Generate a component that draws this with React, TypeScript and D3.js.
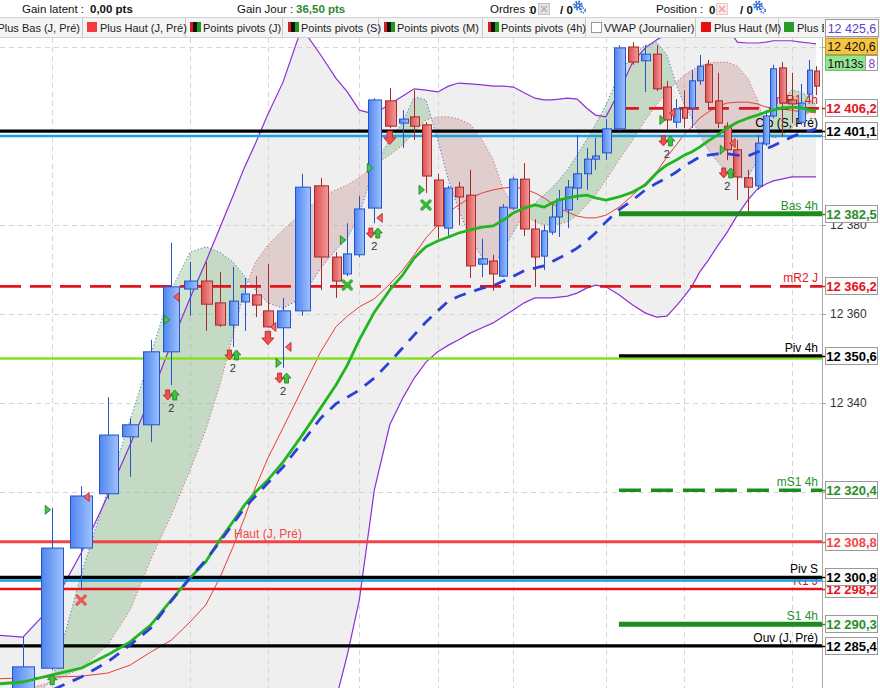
import React from 'react';
import * as d3 from 'd3';

// ---------- DATA ----------
// relative volume of each bar (bar slot width is proportional to it)
const volumes = [290, 290, 295, 285, 245, 205, 205, 208, 170, 143, 138, 125, 108, 113, 133, 170, 203, 178, 125, 105, 135, 165, 145, 115, 115, 120, 115, 100, 105, 125, 115, 105, 100, 100, 115, 100, 80, 75, 75, 93, 100, 88, 90, 120, 140, 135, 120, 105, 100, 90, 70, 75, 85, 90, 95, 98, 105, 103, 93, 75, 73, 95, 105, 88, 70, 65];
const opens = [12268.0, 12273.0, 12280.4, 12307.4, 12319.6, 12332.4, 12335.1, 12351.5, 12365.6, 12367.4, 12362.5, 12357.5, 12362.7, 12364.3, 12360.7, 12356.9, 12360.7, 12388.8, 12372.8, 12369.0, 12373.3, 12383.8, 12407.9, 12402.9, 12404.3, 12402.5, 12390.1, 12379.3, 12388.5, 12386.7, 12371.2, 12371.9, 12368.5, 12383.8, 12390.3, 12379.1, 12373.0, 12378.4, 12381.8, 12383.4, 12388.3, 12391.5, 12394.8, 12396.2, 12401.6, 12420.0, 12416.9, 12418.4, 12411.0, 12403.1, 12406.3, 12406.3, 12412.4, 12416.0, 12407.9, 12402.2, 12396.9, 12390.6, 12388.8, 12398.2, 12404.5, 12415.3, 12408.1, 12403.1, 12409.4, 12414.6];
const highs = [12275.0, 12287.4, 12316.4, 12321.3, 12341.3, 12336.6, 12354.2, 12376.0, 12371.7, 12371.7, 12369.4, 12370.6, 12368.1, 12368.5, 12371.2, 12363.6, 12391.5, 12390.6, 12373.9, 12380.4, 12386.5, 12408.5, 12410.8, 12405.8, 12410.3, 12403.1, 12391.5, 12388.8, 12389.7, 12392.4, 12376.9, 12373.3, 12384.7, 12390.8, 12393.9, 12381.3, 12380.0, 12384.7, 12387.9, 12390.1, 12400.2, 12397.3, 12399.6, 12403.8, 12420.4, 12421.1, 12420.4, 12420.4, 12412.4, 12408.3, 12410.3, 12414.8, 12418.2, 12417.1, 12414.2, 12403.1, 12399.1, 12392.4, 12400.2, 12405.8, 12416.0, 12416.6, 12414.2, 12411.7, 12417.1, 12415.7];
const lows = [12262.0, 12272.0, 12280.0, 12298.4, 12318.4, 12323.4, 12331.2, 12344.0, 12359.6, 12356.2, 12357.1, 12352.6, 12356.2, 12359.3, 12356.9, 12347.9, 12359.6, 12365.4, 12363.6, 12368.5, 12372.8, 12380.4, 12401.8, 12397.3, 12399.1, 12387.2, 12376.9, 12377.3, 12380.0, 12368.1, 12368.3, 12365.2, 12368.3, 12383.4, 12377.5, 12366.1, 12369.9, 12377.8, 12377.3, 12379.3, 12385.6, 12387.9, 12392.4, 12394.6, 12401.1, 12416.0, 12409.9, 12410.1, 12401.3, 12401.8, 12401.8, 12401.8, 12411.5, 12405.8, 12401.8, 12394.6, 12385.6, 12382.9, 12387.9, 12397.8, 12404.0, 12399.8, 12402.9, 12402.5, 12408.1, 12409.2];
const closes = [12273.0, 12280.7, 12307.4, 12319.1, 12332.8, 12335.1, 12351.5, 12366.1, 12367.4, 12362.2, 12357.5, 12362.9, 12364.5, 12362.0, 12357.1, 12360.7, 12388.5, 12372.8, 12367.4, 12373.5, 12383.6, 12408.1, 12402.2, 12403.8, 12402.2, 12391.0, 12379.8, 12388.3, 12386.3, 12370.8, 12372.4, 12369.0, 12384.0, 12390.3, 12379.1, 12372.8, 12378.7, 12381.8, 12385.8, 12388.5, 12391.5, 12394.8, 12395.5, 12401.6, 12419.8, 12416.6, 12418.4, 12410.6, 12403.6, 12406.1, 12404.0, 12412.4, 12415.7, 12407.6, 12402.9, 12396.9, 12390.8, 12388.5, 12398.4, 12404.5, 12415.1, 12407.4, 12407.2, 12407.4, 12414.8, 12411.2];

const maGreen = [12276.8, 12277.3, 12278.9, 12280.4, 12283.4, 12286.3, 12290.1, 12295.7, 12300.7, 12304.3, 12309.2, 12313.3, 12317.1, 12320.0, 12322.7, 12326.7, 12332.6, 12338.9, 12344.0, 12348.5, 12354.2, 12360.4, 12365.4, 12368.8, 12372.6, 12375.1, 12376.4, 12377.3, 12378.2, 12378.9, 12379.5, 12379.8, 12381.1, 12382.7, 12383.8, 12384.5, 12384.0, 12384.9, 12385.6, 12386.1, 12386.5, 12386.7, 12386.1, 12385.6, 12386.3, 12387.4, 12389.0, 12391.7, 12393.5, 12394.6, 12395.7, 12396.4, 12397.5, 12398.9, 12400.2, 12401.8, 12403.1, 12404.0, 12404.7, 12405.4, 12405.8, 12406.3, 12406.5, 12406.3, 12405.8, 12405.6];
const maBlue = [12271.0, 12273.3, 12275.5, 12278.4, 12281.8, 12285.6, 12289.4, 12295.5, 12300.7, 12304.7, 12308.8, 12312.8, 12316.4, 12319.1, 12322.0, 12325.6, 12331.0, 12336.6, 12339.8, 12341.3, 12342.9, 12345.6, 12349.2, 12352.4, 12355.3, 12358.2, 12360.7, 12362.9, 12364.0, 12364.9, 12365.8, 12366.3, 12367.4, 12368.5, 12369.7, 12370.3, 12370.8, 12371.7, 12372.6, 12373.5, 12374.8, 12376.4, 12378.2, 12380.7, 12383.4, 12385.6, 12387.9, 12389.4, 12390.6, 12391.9, 12393.3, 12394.2, 12395.3, 12395.7, 12396.0, 12396.0, 12395.7, 12395.5, 12396.4, 12397.1, 12397.8, 12398.7, 12399.8, 12400.7, 12401.1, 12401.6];
const bbMid = [12278.0, 12278.2, 12278.4, 12278.6, 12279.3, 12281.1, 12284.0, 12286.7, 12290.8, 12294.6, 12300.7, 12307.6, 12314.2, 12321.1, 12327.6, 12334.4, 12342.9, 12351.5, 12357.1, 12359.5, 12361.6, 12363.4, 12366.7, 12369.9, 12373.3, 12377.1, 12380.0, 12382.9, 12384.5, 12386.1, 12387.2, 12387.9, 12388.3, 12388.5, 12388.1, 12387.2, 12386.1, 12384.9, 12383.8, 12382.9, 12382.0, 12381.6, 12381.6, 12382.2, 12384.0, 12386.7, 12389.4, 12391.9, 12395.3, 12398.0, 12400.4, 12402.0, 12404.0, 12405.4, 12406.7, 12407.4, 12407.6, 12407.6, 12407.2, 12406.5, 12406.3, 12406.1, 12405.8, 12405.4, 12405.4, 12405.2];
const bbUpper = [12287.9, 12287.4, 12294.4, 12306.3, 12319.1, 12330.6, 12341.3, 12353.3, 12363.6, 12371.7, 12379.3, 12386.5, 12393.0, 12398.4, 12404.9, 12412.1, 12424.3, 12418.2, 12413.0, 12409.9, 12405.8, 12404.9, 12407.2, 12409.0, 12410.6, 12410.3, 12409.9, 12411.2, 12411.9, 12411.7, 12411.5, 12411.2, 12411.2, 12411.0, 12409.7, 12408.5, 12408.1, 12408.1, 12408.3, 12408.5, 12408.3, 12406.3, 12404.7, 12404.3, 12409.9, 12416.6, 12419.8, 12421.6, 12422.9, 12423.8, 12424.3, 12424.5, 12424.5, 12424.5, 12424.5, 12424.3, 12421.1, 12420.9, 12420.9, 12421.1, 12421.4, 12421.4, 12421.4, 12421.1, 12420.9, 12420.7];
const bbLower = [12265.0, 12268.8, 12259.8, 12248.5, 12237.3, 12228.3, 12221.6, 12217.1, 12214.8, 12214.8, 12217.1, 12219.3, 12223.8, 12228.3, 12235.1, 12244.0, 12255.3, 12266.5, 12273.3, 12283.4, 12295.7, 12320.4, 12335.1, 12341.1, 12345.6, 12349.2, 12351.5, 12353.0, 12354.2, 12355.7, 12356.9, 12358.0, 12359.5, 12360.9, 12362.5, 12363.6, 12363.6, 12363.6, 12363.8, 12364.0, 12364.7, 12365.8, 12366.5, 12366.1, 12364.3, 12362.0, 12360.2, 12359.3, 12359.5, 12361.8, 12364.0, 12366.1, 12369.4, 12372.1, 12375.3, 12378.4, 12382.2, 12385.6, 12388.1, 12389.2, 12389.9, 12390.3, 12390.8, 12390.8, 12390.8, 12390.8];
const trendFast = [12270.1, 12272.1, 12277.7, 12301.4, 12320.4, 12336.2, 12350.8, 12365.4, 12373.9, 12375.1, 12373.9, 12371.7, 12368.5, 12365.4, 12362.5, 12361.3, 12363.6, 12370.3, 12374.4, 12377.1, 12382.2, 12393.5, 12399.1, 12403.1, 12408.8, 12408.1, 12399.1, 12390.1, 12383.4, 12377.1, 12372.6, 12370.8, 12374.4, 12378.4, 12382.7, 12384.9, 12386.7, 12388.3, 12390.1, 12392.4, 12395.7, 12399.1, 12402.5, 12407.0, 12413.7, 12418.2, 12420.4, 12421.1, 12418.2, 12411.5, 12407.0, 12404.0, 12400.2, 12396.9, 12394.2, 12391.9, 12390.6, 12390.6, 12394.6, 12401.3, 12405.8, 12408.1, 12410.3, 12409.9, 12408.5, 12407.0];
const trendSlow = [12274.8, 12275.5, 12277.3, 12280.4, 12285.6, 12293.5, 12304.7, 12314.8, 12324.9, 12333.9, 12344.0, 12355.3, 12365.4, 12371.7, 12375.5, 12378.9, 12382.7, 12386.1, 12387.9, 12389.0, 12390.6, 12393.5, 12395.7, 12398.0, 12400.9, 12403.6, 12404.3, 12404.3, 12403.8, 12402.7, 12399.1, 12394.6, 12387.9, 12384.5, 12382.2, 12380.7, 12380.0, 12380.0, 12380.2, 12380.7, 12382.2, 12384.5, 12386.7, 12390.1, 12394.6, 12399.1, 12403.6, 12407.0, 12409.9, 12412.1, 12413.7, 12414.8, 12415.7, 12416.4, 12416.6, 12416.6, 12415.7, 12413.0, 12408.1, 12401.3, 12399.5, 12400.0, 12401.8, 12403.6, 12405.4, 12406.3];

const gridCandles = [2, 8, 14, 20, 26, 33, 43, 50, 62];
const gridPrices = [12300, 12320, 12340, 12360, 12380, 12400, 12420];
const labelTicks = [12340, 12360, 12380];
const fourHourStart = 44;

const levelNames = ['Ouv (J, Pré)', 'S1 4h', 'R1 J', '', 'Piv S', 'Haut (J, Pré)', 'mS1 4h', '', 'Piv 4h', 'mR2 J', 'Bas 4h', '', 'Clo (S, Pré)', 'mR1 4h'];
const levelPrices = [12285.4, 12290.3, 12298.2, 12300.1, 12300.8, 12308.8, 12320.4, 12350.0, 12350.6, 12366.2, 12382.5, 12400.0, 12401.1, 12406.2];
const levelKinds = ['black', 'green4h', 'red', 'blue', 'black', 'redLight', 'greenDash4h', 'lime', 'black4h', 'redDash', 'green4h', 'blue', 'black', 'redDash4h'];
const levelOnAxis = [true, true, true, false, true, true, true, false, true, true, true, false, true, true];

const markerCandles = [2, 3, 3, 2, 7, 7, 7, 11, 14, 14, 15, 15, 15, 19, 19, 21, 21, 21, 22, 25, 25, 48, 48, 48, 55, 55, 55];
const markerPrices = [12316.0, 12318.9, 12295.7, 12277.8, 12363.8, 12358.7, 12341.8, 12350.8, 12354.6, 12357.1, 12352.6, 12349.0, 12345.6, 12376.6, 12366.5, 12392.8, 12381.6, 12378.2, 12399.6, 12387.9, 12384.5, 12403.6, 12405.2, 12398.9, 12396.9, 12398.4, 12391.7];
const markerTypes = ['tg', 'tr', 'xr', 'up', 'tr', 'tg', 'pair', 'pair', 'down', 'tr', 'tr', 'tg', 'pair', 'tg', 'xg', 'tg', 'tr', 'pair', 'down', 'tg', 'xg', 'tg', 'tr', 'pair', 'tg', 'tr', 'pair'];

const legendItems = ['Plus Bas (J, Pré)', 'Plus Haut (J, Pré)', 'Points pivots (J)', 'Points pivots (S)', 'Points pivots (M)', 'Points pivots (4h)', 'VWAP (Journalier)', 'Plus Haut (M)', 'Plus Bas (M)'];
const legendIcons = ['none', 'red', 'pivot', 'pivot', 'pivot', 'pivot', 'empty', 'red2', 'green'];

// ---------- STYLE ----------
const FONT = "'Liberation Sans', Arial, Helvetica, sans-serif";
const PLOT_R = 822;
const PLOT_T = 38;
const H = 688;

const levelStyle: Record<string, any> = {
  black: { color: '#000000', w: 3.2, dash: null, fourH: false, text: '#000' },
  black4h: { color: '#000000', w: 3.2, dash: null, fourH: true, text: '#000' },
  green4h: { color: '#1c8c1c', w: 5, dash: null, fourH: true, text: '#2a8f2a' },
  greenDash4h: { color: '#1c8c1c', w: 3.5, dash: '22,10', fourH: true, text: '#2a8f2a' },
  red: { color: '#e3141c', w: 2.6, dash: null, fourH: false, text: '#e3141c' },
  redLight: { color: '#f04444', w: 3, dash: null, fourH: false, text: '#ef4a4a' },
  redDash: { color: '#e3141c', w: 2.8, dash: '21,9', fourH: false, text: '#e3141c' },
  redDash4h: { color: '#d9191f', w: 2.8, dash: '20,10', fourH: true, text: '#e3141c' },
  blue: { color: '#1e9fe6', w: 2.5, dash: null, fourH: false, text: '#1e9fe6' },
  lime: { color: '#84e01e', w: 2.5, dash: null, fourH: false, text: '#5a5' },
};

const fmt = (v: number) => {
  const s = v.toFixed(1).replace('.', ',');
  const [a, b] = s.split(',');
  return a.slice(0, 2) + ' ' + a.slice(2) + ',' + b;
};
const fmtInt = (v: number) => {
  const a = String(Math.round(v));
  return a.slice(0, 2) + ' ' + a.slice(2);
};

function Arrow({ x, y, dir, color, stroke, s = 1 }: any) {
  const h = 10 * s, hw = 4.5 * s, sw = 2 * s, hh = 5 * s;
  const t = y - h / 2;
  let pts: number[][];
  if (dir === 'down') {
    pts = [[x - sw, t], [x + sw, t], [x + sw, t + hh], [x + hw, t + hh], [x, t + h], [x - hw, t + hh], [x - sw, t + hh]];
  } else {
    const b = y + h / 2;
    pts = [[x - sw, b], [x + sw, b], [x + sw, b - hh], [x + hw, b - hh], [x, b - h], [x - hw, b - hh], [x - sw, b - hh]];
  }
  return <polygon points={pts.map(p => p.join(',')).join(' ')} fill={color} stroke={stroke} strokeWidth={0.8} />;
}

function Gear({ x, y }: any) {
  return (
    <g>
      <circle cx={x} cy={y} r={3.6} fill="none" stroke="#2f6fd6" strokeWidth={2.6} strokeDasharray="1.6,1.2" />
      <circle cx={x} cy={y} r={2.6} fill="#2f6fd6" />
      <circle cx={x} cy={y} r={1.1} fill="#fff" />
      <circle cx={x + 5} cy={y + 5} r={2.2} fill="none" stroke="#2f6fd6" strokeWidth={1.8} strokeDasharray="1.2,1" />
      <circle cx={x + 5} cy={y + 5} r={0.8} fill="#fff" />
    </g>
  );
}

export default function App() {
  const cum = d3.cumsum(volumes);
  const total = cum[cum.length - 1];
  const x = d3.scaleLinear().domain([0, total]).range([-20.5, 819.25]);
  const cx = volumes.map((v, i) => x(cum[i] - v / 2));
  const slot = volumes.map(v => x(v) - x(0));
  const y = d3.scaleLinear().domain([12275.95, 12430.56]).range([H, 0]);

  const lineOf = (arr: number[]) => d3.line<number>().x((_, i) => cx[i]).y(d => y(d))(arr) || '';
  const bandArea = d3.area<number>().x((_, i) => cx[i]).y0((_, i) => y(bbLower[i])).y1(d => y(d))(bbUpper) || '';
  const below = (arr: number[]) => d3.area<number>().x((_, i) => cx[i]).y0(d => y(d)).y1(() => 3000)(arr) || '';
  const above = (arr: number[]) => d3.area<number>().x((_, i) => cx[i]).y0(() => -3000).y1(d => y(d))(arr) || '';

  const x4h = cx[fourHourStart];

  const legendSeps = [82, 185, 282, 378, 482, 585, 695, 778];
  const legendStarts = [0, 86, 189, 287, 383, 487, 590, 700, 783];

  return (
    <svg width={880} height={688} style={{ position: 'absolute', left: 0, top: 0, display: 'block', background: '#fff' }} fontFamily={FONT}>
      <defs>
        <clipPath id="plot"><rect x={0} y={PLOT_T} width={PLOT_R} height={H - PLOT_T} /></clipPath>
        <clipPath id="belowFast"><path d={below(trendFast)} /></clipPath>
        <clipPath id="belowSlow"><path d={below(trendSlow)} /></clipPath>
        <clipPath id="legendClip"><rect x={0} y={17} width={PLOT_R + 2} height={21} /></clipPath>
        <linearGradient id="gBlue" x1="0" x2="1" y1="0" y2="0">
          <stop offset="0" stopColor="#4f86ee" />
          <stop offset="1" stopColor="#a0c2ff" />
        </linearGradient>
        <linearGradient id="gRed" x1="0" x2="1" y1="0" y2="0">
          <stop offset="0" stopColor="#dc4f4f" />
          <stop offset="1" stopColor="#f39b9b" />
        </linearGradient>
      </defs>

      <g clipPath="url(#plot)">
        <rect x={0} y={0} width={PLOT_R} height={H} fill="#fff" />
        <path d={bandArea} fill="#efefef" />
        {gridPrices.map(t => (
          <line key={'h' + t} x1={0} x2={PLOT_R} y1={Math.round(y(t)) + 0.5} y2={Math.round(y(t)) + 0.5} stroke="#d6d6d6" strokeDasharray="5,4" />
        ))}
        {gridCandles.map(i => (
          <line key={'v' + i} x1={Math.round(cx[i]) + 0.5} x2={Math.round(cx[i]) + 0.5} y1={PLOT_T} y2={H} stroke="#d6d6d6" strokeDasharray="5,4" />
        ))}
        <path d={above(trendSlow)} fill="rgba(90,165,90,0.28)" clipPath="url(#belowFast)" />
        <path d={above(trendFast)} fill="rgba(175,90,90,0.22)" clipPath="url(#belowSlow)" />
        <path d={lineOf(trendFast)} fill="none" stroke="#4a6fd0" strokeWidth={1} strokeDasharray="1.2,2.2" />
        <path d={lineOf(trendSlow)} fill="none" stroke="#d06a6a" strokeWidth={1} strokeDasharray="1.2,2.2" />
        <path d={lineOf(bbUpper)} fill="none" stroke="#8d2fd6" strokeWidth={1.2} />
        <path d={lineOf(bbLower)} fill="none" stroke="#8d2fd6" strokeWidth={1.2} />
        <path d={lineOf(bbMid)} fill="none" stroke="#ec3a3a" strokeWidth={1} />

        {levelNames.map((n, k) => {
          if (!n) return null;
          const st = levelStyle[levelKinds[k]];
          const ly = y(levelPrices[k]);
          const left = n === 'Haut (J, Pré)';
          return (
            <text key={'ll' + k} x={left ? 234 : 818} y={ly - 4} textAnchor={left ? 'start' : 'end'} fontSize={12} fill={st.text}>{n}</text>
          );
        })}
        {levelPrices.map((p, k) => {
          const st = levelStyle[levelKinds[k]];
          const ly = y(p);
          return (
            <line key={'lv' + k} x1={st.fourH ? x4h : 0} x2={PLOT_R} y1={ly} y2={ly} stroke={st.color} strokeWidth={st.w} strokeDasharray={st.dash || undefined} />
          );
        })}

        {opens.map((o, i) => {
          const c = closes[i];
          const up = c >= o;
          const bw = Math.max(3, Math.round(slot[i] * 0.76));
          const xc = Math.round(cx[i]);
          const top = y(Math.max(o, c));
          const bh = Math.max(1, Math.abs(y(o) - y(c)));
          const stroke = up ? '#2553c9' : '#a52a2a';
          return (
            <g key={'c' + i}>
              <line x1={xc + 0.5} x2={xc + 0.5} y1={y(highs[i])} y2={y(lows[i])} stroke={stroke} strokeWidth={1} />
              <rect x={xc - Math.floor(bw / 2) + 0.5} y={top} width={bw} height={bh} fill={up ? 'url(#gBlue)' : 'url(#gRed)'} stroke={stroke} strokeWidth={1} />
            </g>
          );
        })}

        <path d={lineOf(maGreen)} fill="none" stroke="#22b522" strokeWidth={2.8} strokeLinejoin="round" />
        <path d={lineOf(maBlue)} fill="none" stroke="#2c3fd6" strokeWidth={2.8} strokeDasharray="12,9" />

        {markerTypes.map((t, k) => {
          const mx = cx[markerCandles[k]];
          const my = y(markerPrices[k]);
          if (t === 'tg') return <polygon key={'m' + k} points={`${mx - 7},${my - 4.5} ${mx - 7},${my + 4.5} ${mx - 1.5},${my}`} fill="#45c445" stroke="#1d7a1d" strokeWidth={0.8} />;
          if (t === 'tr') return <polygon key={'m' + k} points={`${mx + 8},${my - 4.5} ${mx + 8},${my + 4.5} ${mx + 2.5},${my}`} fill="#f26666" stroke="#b02020" strokeWidth={0.8} />;
          if (t === 'xg' || t === 'xr') {
            const col = t === 'xg' ? '#3cb43c' : '#e85a5a';
            return (
              <g key={'m' + k} stroke={col} strokeWidth={3.4} strokeLinecap="round">
                <line x1={mx - 4} y1={my - 4} x2={mx + 4} y2={my + 4} />
                <line x1={mx - 4} y1={my + 4} x2={mx + 4} y2={my - 4} />
              </g>
            );
          }
          if (t === 'up') return <Arrow key={'m' + k} x={mx} y={my} dir="up" color="#3cc43c" stroke="#1d7a1d" />;
          if (t === 'down') return <Arrow key={'m' + k} x={mx} y={my} dir="down" color="#f05050" stroke="#b02020" s={1.35} />;
          return (
            <g key={'m' + k}>
              <Arrow x={mx - 3.5} y={my} dir="down" color="#f05050" stroke="#b02020" />
              <Arrow x={mx + 3.5} y={my} dir="up" color="#3cc43c" stroke="#1d7a1d" />
              <text x={mx} y={my + 17} fontSize={11} textAnchor="middle" fill="#333">2</text>
            </g>
          );
        })}
      </g>

      {/* right axis */}
      <rect x={PLOT_R} y={0} width={880 - PLOT_R} height={H} fill="#fff" />
      <line x1={PLOT_R + 0.5} x2={PLOT_R + 0.5} y1={PLOT_T} y2={H} stroke="#a8a8a8" />
      {gridPrices.map(t => (
        <line key={'tm' + t} x1={PLOT_R} x2={PLOT_R + 4} y1={Math.round(y(t)) + 0.5} y2={Math.round(y(t)) + 0.5} stroke="#a8a8a8" />
      ))}
      {labelTicks.map(t => (
        <text key={'t' + t} x={830} y={y(t) + 4.5} fontSize={12} fill="#333">{fmtInt(t)}</text>
      ))}
      {levelPrices.map((p, k) => {
        if (!levelOnAxis[k]) return null;
        const st = levelStyle[levelKinds[k]];
        const ly = Math.round(y(p));
        return (
          <g key={'ax' + k}>
            <line x1={PLOT_R} x2={827} y1={ly + 0.5} y2={ly + 0.5} stroke={st.text} strokeWidth={1.5} />
            <rect x={825.5} y={ly - 8.5} width={52} height={17} fill="#fbfbfb" stroke="#9a9a9a" />
            <text x={851.5} y={ly + 5} fontSize={13} fontWeight="bold" textAnchor="middle" fill={st.text}>{fmt(p)}</text>
          </g>
        );
      })}
      {/* top axis boxes */}
      <rect x={825.5} y={38.5} width={52} height={16} fill="#f6c443" stroke="#c99a22" />
      <text x={851.5} y={51} fontSize={12.5} textAnchor="middle" fill="#111">12 420,6</text>
      <rect x={825.5} y={55.5} width={40} height={15} fill="#93e493" stroke="#6cbf6c" />
      <text x={845.5} y={67.5} fontSize={12} textAnchor="middle" fill="#111">1m13s</text>
      <rect x={865.5} y={55.5} width={12} height={15} fill="#fff" stroke="#9a9a9a" />
      <text x={868.5} y={67.5} fontSize={12} fill="#7a3fd0">8</text>

      {/* header row 1 */}
      <rect x={0} y={0} width={880} height={17} fill="#fff" />
      <g fontSize={11.5} fill="#111">
        <text x={22} y={13}>Gain latent :</text>
        <text x={90} y={13} fontWeight="bold">0,00 pts</text>
        <text x={237} y={13}>Gain Jour :</text>
        <text x={296} y={13} fontWeight="bold" fill="#2d8a2d">36,50 pts</text>
        <text x={490} y={13}>Ordres :</text>
        <text x={530} y={14} fontWeight="bold">0</text>
        <text x={560} y={14} fontWeight="bold">/ 0</text>
        <text x={656} y={13}>Position :</text>
        <text x={709} y={14} fontWeight="bold">0</text>
        <text x={740} y={14} fontWeight="bold">/ 0</text>
      </g>
      <rect x={538.5} y={3.5} width={11} height={11} fill="#e2e2e2" stroke="#c4c4c4" />
      <path d="M541,6 L547,12 M547,6 L541,12" stroke="#b0b0b0" strokeWidth={1.5} />
      <rect x={716.5} y={3.5} width={11} height={11} fill="#fbe9e9" stroke="#f0caca" />
      <path d="M719,6 L725,12 M725,6 L719,12" stroke="#f2a0a0" strokeWidth={1.5} />
      <Gear x={578} y={5.5} />
      <Gear x={758} y={5.5} />

      {/* header row 2: legend */}
      <rect x={-1} y={17.5} width={882} height={20} fill="#f4f4f4" stroke="#d2d2d2" />
      <g clipPath="url(#legendClip)">
        {legendSeps.map(s => <line key={'s' + s} x1={s + 0.5} x2={s + 0.5} y1={18} y2={37} stroke="#c8c8c8" />)}
        {legendItems.map((name, k) => {
          const sx = legendStarts[k];
          const icon = legendIcons[k];
          return (
            <g key={'lg' + k}>
              {icon === 'red' && <rect x={sx + 1} y={22} width={10} height={10} fill="#f23c3c" />}
              {icon === 'red2' && <rect x={sx + 1} y={22} width={10} height={10} fill="#e51010" />}
              {icon === 'green' && <rect x={sx + 1} y={22} width={10} height={10} fill="#2a9a2a" />}
              {icon === 'empty' && <rect x={sx + 1.5} y={22.5} width={10} height={10} fill="#fff" stroke="#999" />}
              {icon === 'pivot' && (
                <g>
                  <rect x={sx + 1} y={22} width={3} height={10} fill="#d21e1e" />
                  <rect x={sx + 4} y={22} width={4} height={10} fill="#111" />
                  <rect x={sx + 8} y={22} width={4} height={10} fill="#1e9a1e" />
                </g>
              )}
              <text x={icon === 'none' ? 80 : sx + 14} y={32} fontSize={11} textAnchor={icon === 'none' ? 'end' : 'start'} fill="#222">{name}</text>
            </g>
          );
        })}
      </g>
      <rect x={825.5} y={19.5} width={53} height={17} fill="#fff" stroke="#9a9a9a" />
      <text x={852} y={32.5} fontSize={12.5} textAnchor="middle" fill="#5a3fd0">12 425,6</text>
    </svg>
  );
}
